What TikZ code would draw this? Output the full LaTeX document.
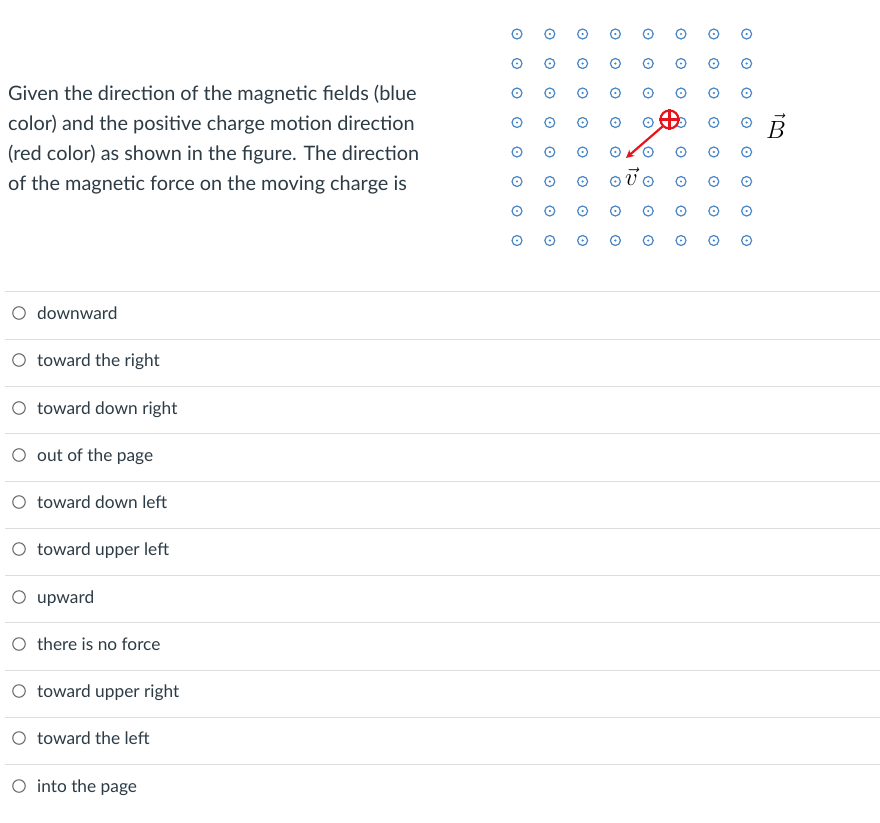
\documentclass[tikz,border=0pt]{standalone}
\usepackage{fontspec}
\setmainfont{Lato}
\usepackage{amsmath}
\usetikzlibrary{arrows.meta}
\usepackage[rgb]{xcolor}
\definecolor{tx}{HTML}{2D3B45}
\definecolor{fl}{HTML}{4A86C6}
\definecolor{ch}{HTML}{E8141B}
\definecolor{ln}{HTML}{DDDDDD}
\definecolor{rd}{HTML}{6E6E6E}

\tikzset{
  qline/.style={anchor = base west, inner sep = 0pt, text = tx, font = \fontsize{19.9}{30}\selectfont},
  opt/.style={anchor = base west, inner sep = 0pt, text = tx, font = \fontsize{17.3}{20}\selectfont},
  radio/.style={circle, draw = rd, line width = 1.1pt, minimum size = 12.5pt, inner sep = 0pt},
  sep/.style={draw = ln, line width = 1pt},
  fieldout/.style={circle, draw = fl, line width = 1.2pt, minimum size = 10pt, inner sep = 0pt},
  vecsym/.style={text = black, inner sep = 0pt, font = \fontsize{23}{23}\selectfont},
}

\begin{document}
\begin{tikzpicture}[x=1pt, y=-1pt]
  \useasboundingbox[fill=white] (0,0) rectangle (880,822);

  % question
  \node[qline] (q1) at (8,100.5) {Given the direction of the magnetic fields (blue};
  \node[qline] (q2) at (8,130.5) {color) and the positive charge motion direction};
  \node[qline] (q3) at (8,160.5) {(red color) as shown in the figure. The direction};
  \node[qline] (q4) at (8,190.5) {of the magnetic force on the moving charge is};

  % field out of the page
  \foreach \i in {0,...,7}{
    \foreach \j in {0,...,7}{
      \node[fieldout] (b\i\j) at (517+32.8*\i, 34+29.5*\j) {};
      \fill[fl] (b\i\j.center) circle (1.2);
    }
  }

  % the charge and its velocity
  \node[circle, draw = ch, fill = white, line width = 2.2pt, minimum size = 18pt, inner sep = 0pt] (q) at (669.5,119.5) {};
  \draw[ch, line width = 2.2pt] (q.north) -- (q.south) (q.west) -- (q.east);
  \coordinate (vtip) at (626,158);
  \draw[ch, line width = 2.2pt, -{Stealth[length=8pt, width=8pt]}] (q.south west) -- (vtip);
  \node[vecsym] (v) at (631.5,177) {$\vec{v}$};
  \node[vecsym] (B) at (776,126) {$\vec{B}$};

  % answers
  \draw[sep] (5,291.5) -- (880,291.5);
  \node[radio] (r1) at (19,313) {};
  \node[opt] (a1) at (37,319.5) {downward};
  \draw[sep] (5,339) -- (880,339);
  \node[radio] (r2) at (19,360) {};
  \node[opt] (a2) at (37,366.5) {toward the right};
  \draw[sep] (5,386.5) -- (880,386.5);
  \node[radio] (r3) at (19,408) {};
  \node[opt] (a3) at (37,414.5) {toward down right};
  \draw[sep] (5,433.5) -- (880,433.5);
  \node[radio] (r4) at (19,455) {};
  \node[opt] (a4) at (37,461.5) {out of the page};
  \draw[sep] (5,481) -- (880,481);
  \node[radio] (r5) at (19,502) {};
  \node[opt] (a5) at (37,508.5) {toward down left};
  \draw[sep] (5,528) -- (880,528);
  \node[radio] (r6) at (19,549) {};
  \node[opt] (a6) at (37,555.5) {toward upper left};
  \draw[sep] (5,575.5) -- (880,575.5);
  \node[radio] (r7) at (19,597) {};
  \node[opt] (a7) at (37,603.5) {upward};
  \draw[sep] (5,622.5) -- (880,622.5);
  \node[radio] (r8) at (19,644) {};
  \node[opt] (a8) at (37,650.5) {there is no force};
  \draw[sep] (5,670) -- (880,670);
  \node[radio] (r9) at (19,691) {};
  \node[opt] (a9) at (37,697.5) {toward upper right};
  \draw[sep] (5,717) -- (880,717);
  \node[radio] (r10) at (19,738) {};
  \node[opt] (a10) at (37,744.5) {toward the left};
  \draw[sep] (5,764.5) -- (880,764.5);
  \node[radio] (r11) at (19,786) {};
  \node[opt] (a11) at (37,792.5) {into the page};
\end{tikzpicture}
\end{document}
